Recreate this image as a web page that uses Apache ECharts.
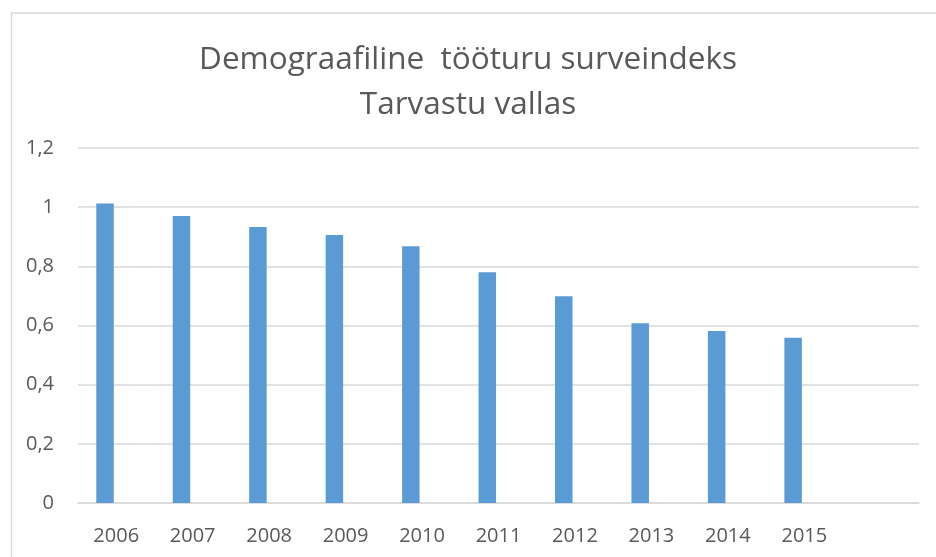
<!DOCTYPE html>
<html>
<head>
<meta charset="utf-8">
<script src="https://cdn.jsdelivr.net/npm/echarts@6/dist/echarts.min.js"></script>
<style>html,body{margin:0;padding:0;background:#fff}#c{width:936px;height:557px}</style>
</head>
<body>
<div id="c"></div>
<script>
const titleText = 'Demograafiline  tööturu surveindeks\nTarvastu vallas';
const categories = ['2006','2007','2008','2009','2010','2011','2012','2013','2014','2015',''];
const values = [1.012, 0.970, 0.933, 0.906, 0.868, 0.780, 0.699, 0.608, 0.581, 0.559, null];
const emptySeries = [null, null, null, null, null, null, null, null, null, null, null];
const yTicks = { min: 0, max: 1.2, interval: 0.2 };

const chart = echarts.init(document.getElementById('c'), null, { renderer: 'canvas' });
const FONT = 'Open Sans';
chart.setOption({
  animation: false,
  backgroundColor: '#ffffff',
  title: {
    text: titleText,
    left: 'center',
    top: 33,
    textStyle: { fontFamily: FONT, fontSize: 31.5, fontWeight: 'normal', color: '#595959', lineHeight: 45 }
  },
  graphic: [{
    type: 'polyline',
    shape: { points: [[11.5, 557], [11.5, 13], [936, 13]] },
    style: { stroke: '#d9d9d9', lineWidth: 1.5, fill: null },
    silent: true
  }],
  grid: { left: 78, right: 17, top: 148, bottom: 54, containLabel: false },
  xAxis: {
    type: 'category',
    data: categories,
    axisLine: { show: true, lineStyle: { color: '#d9d9d9', width: 1.5 } },
    axisTick: { show: false },
    axisLabel: { fontFamily: FONT, fontSize: 20, color: '#595959', margin: 23, interval: 0 }
  },
  yAxis: {
    type: 'value',
    min: yTicks.min, max: yTicks.max, interval: yTicks.interval,
    axisLine: { show: false },
    axisTick: { show: false },
    splitLine: { lineStyle: { color: '#d9d9d9', width: 1.5 } },
    axisLabel: {
      fontFamily: FONT, fontSize: 20, color: '#595959', margin: 24,
      formatter: v => String(+v.toFixed(1)).replace('.', ',')
    }
  },
  series: [
    { type: 'bar', name: 'Surveindeks', data: values, barWidth: 17.5, barGap: '28%', itemStyle: { color: '#5b9bd5' } },
    { type: 'bar', name: 'tühi', data: emptySeries, barWidth: 17.5, itemStyle: { color: '#ed7d31' } }
  ]
});
</script>
</body>
</html>
